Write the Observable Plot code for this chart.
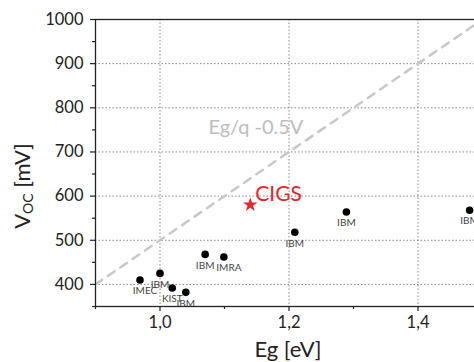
<!DOCTYPE html>
<html><head><meta charset="utf-8">
<script src="https://cdn.jsdelivr.net/npm/d3@7"></script>
<script src="https://cdn.jsdelivr.net/npm/@observablehq/plot@0.6"></script>
<style>
html,body{margin:0;padding:0;overflow:hidden;background:#fff;width:474px;height:362px}
#chart svg{display:block;max-width:none !important;}
</style>
</head><body><div id="chart"></div>
<script>
// Data
const bandgap = [0.969, 1.0, 1.019, 1.040, 1.070, 1.099, 1.209, 1.289, 1.48];
const voc     = [410, 425, 392, 382, 468, 462, 518, 564, 568];
const labs    = ["IMEC", "IBM", "KIST", "IBM", "IBM", "IMRA", "IBM", "IBM", "IBM"];
const cigsEg  = [1.14];
const cigsVoc = [580];
const cigsLab = ["CIGS"];
const limitEg  = [0.9, 1.5];
const limitVoc = [400, 1000];
const limitLab = ["Eg/q -0.5V"];
const limitLabEg = [1.075];
const limitLabVoc = [755];
const xTicks = [1.0, 1.2, 1.4];
const xMinor = [0.9, 1.1, 1.3, 1.5];
const yTicks = [400, 500, 600, 700, 800, 900, 1000];
const yMinor = [350, 450, 550, 650, 750, 850, 950];
const yGrid  = [400, 500, 600, 700, 800, 900];

const pts = bandgap.map((e, i) => ({eg: e, v: voc[i], lab: labs[i]}));
const cigs = cigsEg.map((e, i) => ({eg: e, v: cigsVoc[i], lab: cigsLab[i]}));
const limit = limitEg.map((e, i) => ({eg: e, v: limitVoc[i]}));
const limitText = limitLab.map((t, i) => ({eg: limitLabEg[i], v: limitLabVoc[i], lab: t}));
const shifted = new Set(["IMEC", "IMRA"]);

const FONT = "Lato, 'DejaVu Sans', sans-serif";
const comma = d => d.toFixed(1).replace(".", ",");

const chart = Plot.plot({
  width: 502, height: 362,
  marginLeft: 95, marginRight: 20, marginTop: 19, marginBottom: 56,
  style: {fontFamily: FONT, color: "#222", background: "#fff", maxWidth: "none"},
  x: {domain: [0.9, 1.5]},
  y: {domain: [350, 1000]},
  marks: [
    Plot.gridX(xTicks, {stroke: "#888", strokeOpacity: 1, strokeDasharray: "1.5,2", strokeWidth: 1}),
    Plot.gridY(yGrid, {stroke: "#888", strokeOpacity: 1, strokeDasharray: "1.5,2", strokeWidth: 1}),
    Plot.line(limit, {x: "eg", y: "v", stroke: "#c8c8c8", strokeWidth: 2.5, strokeDasharray: "8,7", clip: true}),
    Plot.text(limitText, {x: "eg", y: "v", text: "lab", textAnchor: "start", fontSize: 20, fill: "#bdbdbd"}),
    Plot.dot(pts, {x: "eg", y: "v", r: 3.8, fill: "#000"}),
    Plot.text(pts.filter(d => !shifted.has(d.lab)), {x: "eg", y: "v", text: "lab", dy: 11, fontSize: 10, fill: "#444"}),
    Plot.text(pts.filter(d => shifted.has(d.lab)), {x: "eg", y: "v", text: "lab", dy: 11, dx: 5, fontSize: 10, fill: "#444"}),
    Plot.dot(cigs, {x: "eg", y: "v", symbol: "star", r: 4.5, fill: "#e8262a"}),
    Plot.text(cigs, {x: "eg", y: "v", text: "lab", dx: 5, dy: -11, textAnchor: "start", fontSize: 21, fill: "#e8262a"}),
    Plot.axisX(xTicks, {tickSize: 5, tickPadding: 5, tickFormat: comma, fontSize: 16.5, label: null, strokeWidth: 1.2}),
    Plot.axisX(xMinor, {tickSize: 3, tickFormat: () => "", label: null, strokeWidth: 1.2}),
    Plot.axisY(yTicks, {tickSize: 5, tickPadding: 7, tickFormat: d => String(d), fontSize: 16.5, label: null, strokeWidth: 1.2}),
    Plot.axisY(yMinor, {tickSize: 3, tickFormat: () => "", label: null, strokeWidth: 1.2}),
    Plot.frame({stroke: "#222", strokeWidth: 1.3})
  ]
});

const svg = d3.select(chart);
const yl = svg.append("text")
  .attr("transform", "translate(24,186) rotate(-90)")
  .attr("text-anchor", "middle")
  .attr("dominant-baseline", "middle")
  .attr("font-family", FONT)
  .attr("font-size", 22)
  .attr("fill", "#222");
yl.append("tspan").text("V");
yl.append("tspan").attr("font-size", 14).attr("dy", 5).text("OC");
yl.append("tspan").attr("dy", -5).text(" [mV]");

svg.append("text")
  .attr("x", 288).attr("y", 357)
  .attr("text-anchor", "middle")
  .attr("font-family", FONT)
  .attr("font-size", 22)
  .attr("fill", "#222")
  .text("Eg [eV]");

document.getElementById("chart").append(chart);
</script>
</body></html>
